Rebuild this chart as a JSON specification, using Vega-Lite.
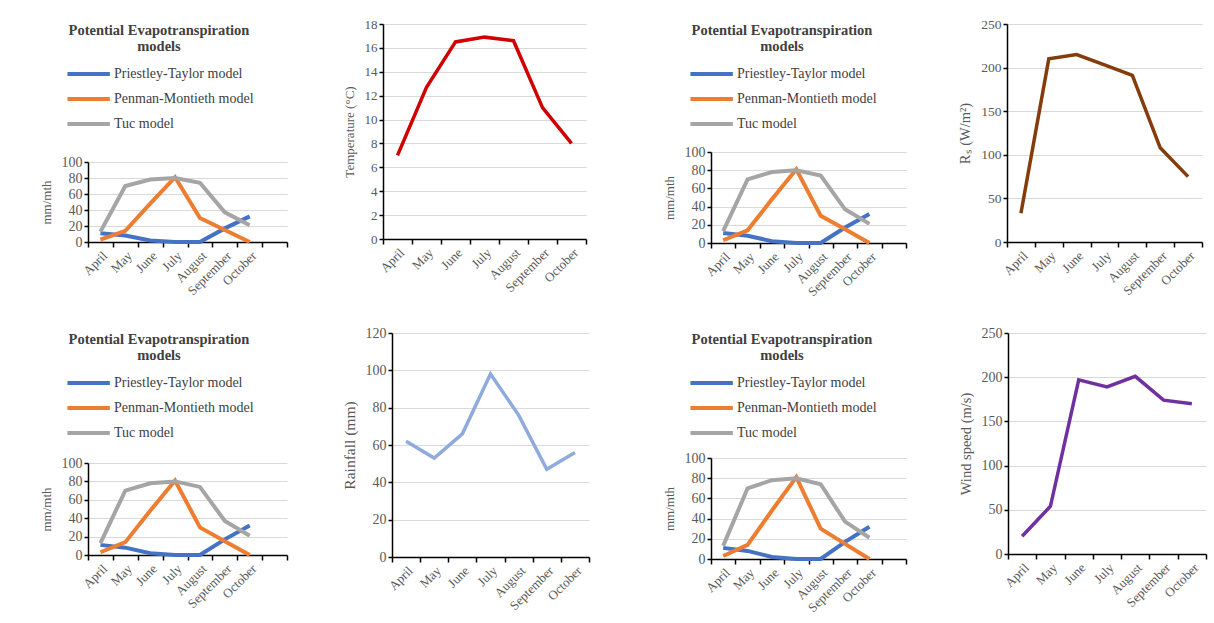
{
  "$schema": "https://vega.github.io/schema/vega-lite/v6.json",
  "padding": {"left": 40, "top": 17, "right": 2, "bottom": 0},
  "background": "white",
  "datasets": {
    "pet": [
      {"month": "April", "model": "Priestley-Taylor model", "value": 11},
      {"month": "May", "model": "Priestley-Taylor model", "value": 8},
      {"month": "June", "model": "Priestley-Taylor model", "value": 2},
      {"month": "July", "model": "Priestley-Taylor model", "value": 0},
      {"month": "August", "model": "Priestley-Taylor model", "value": 0},
      {"month": "September", "model": "Priestley-Taylor model", "value": 17},
      {"month": "October", "model": "Priestley-Taylor model", "value": 32},
      {"month": "April", "model": "Penman-Montieth model", "value": 3},
      {"month": "May", "model": "Penman-Montieth model", "value": 14},
      {"month": "June", "model": "Penman-Montieth model", "value": 48},
      {"month": "July", "model": "Penman-Montieth model", "value": 81},
      {"month": "August", "model": "Penman-Montieth model", "value": 30},
      {"month": "September", "model": "Penman-Montieth model", "value": 15},
      {"month": "October", "model": "Penman-Montieth model", "value": 0},
      {"month": "April", "model": "Tuc model", "value": 13},
      {"month": "May", "model": "Tuc model", "value": 70},
      {"month": "June", "model": "Tuc model", "value": 78},
      {"month": "July", "model": "Tuc model", "value": 80},
      {"month": "August", "model": "Tuc model", "value": 74},
      {"month": "September", "model": "Tuc model", "value": 37},
      {"month": "October", "model": "Tuc model", "value": 21}
    ],
    "weather": [
      {"month": "April", "temp": 7, "rs": 33, "rain": 62, "wind": 20},
      {"month": "May", "temp": 12.7, "rs": 210, "rain": 53, "wind": 54},
      {"month": "June", "temp": 16.5, "rs": 215, "rain": 66, "wind": 197},
      {"month": "July", "temp": 16.9, "rs": 203, "rain": 98, "wind": 189},
      {"month": "August", "temp": 16.6, "rs": 191, "rain": 76, "wind": 201},
      {"month": "September", "temp": 11, "rs": 108, "rain": 47, "wind": 174},
      {"month": "October", "temp": 8, "rs": 75, "rain": 56, "wind": 170}
    ]
  },
  "config": {
    "font": "Liberation Serif, Times New Roman, serif",
    "view": {"stroke": null},
    "axis": {
      "labelFont": "Liberation Serif, Times New Roman, serif",
      "titleFont": "Liberation Serif, Times New Roman, serif",
      "labelColor": "#595959",
      "titleColor": "#595959",
      "labelFontSize": 13,
      "titleFontSize": 13,
      "titleFontWeight": "normal",
      "domainColor": "#000000",
      "domainWidth": 1.5,
      "tickColor": "#000000",
      "tickWidth": 1.5,
      "tickSize": 5,
      "gridColor": "#D9D9D9",
      "gridWidth": 1
    },
    "axisX": {"grid": false, "labelAngle": -45, "tickBand": "extent", "labelPadding": 2},
    "axisY": {"grid": true, "tickSize": 4, "titlePadding": 8},
    "legend": {"labelFont": "Liberation Serif, Times New Roman, serif", "labelFontSize": 14, "labelColor": "#404040", "labelLimit": 400,
      "titleFont": "Liberation Serif, Times New Roman, serif", "titleFontSize": 14.5, "titleFontWeight": "bold", "titleColor": "#404040", "titleLineHeight": 16, "titleLimit": 400},
    "concat": {"spacing": 20}
  },
  "spacing": 27,
  "resolve": {"scale": {"color": "independent"}, "legend": {"color": "independent"}},
  "vconcat": [
    {
      "spacing": 76,
      "resolve": {"scale": {"color": "independent"}, "legend": {"color": "independent"}},
      "hconcat": [
        {
          "spacing": 55,
          "resolve": {"scale": {"color": "independent"}, "legend": {"color": "independent"}},
          "hconcat": [
            {
              "spacing": 10,
              "resolve": {"scale": {"color": "independent"}, "legend": {"color": "independent"}},
              "vconcat": [
                {
                  "width": 200, "height": 121,
                  "data": {"name": "pet"},
                  "transform": [{"filter": "datum.value < 0"}],
                  "mark": {"type": "line"},
                  "encoding": {
                    "color": {"field": "model", "type": "nominal",
                      "scale": {"domain": ["Priestley-Taylor model", "Penman-Montieth model", "Tuc model"], "range": ["#4472C4", "#ED7D31", "#A5A5A5"]},
                      "legend": {"orient": "none", "legendX": -23, "legendY": 0, "direction": "vertical",
                        "title": ["Potential Evapotranspiration", "models"], "titleAnchor": "middle", "titleAlign": "center", "titlePadding": 10,
                        "symbolType": "M-1,0L5,0", "symbolSize": 200, "symbolStrokeWidth": 4, "rowPadding": 7, "labelOffset": 30}}
                  }
                },
                {
                  "width": 199, "height": 80,
                  "data": {"name": "pet"},
                  "mark": {"type": "line", "strokeWidth": 4},
                  "encoding": {
                    "x": {"field": "month", "type": "nominal", "bandPosition": 0.5, "title": null,
                      "scale": {"type": "band", "domain": ["April", "May", "June", "July", "August", "September", "October", "_"], "paddingInner": 0, "paddingOuter": 0},
                      "axis": {"labelExpr": "datum.value == '_' ? '' : datum.label"}},
                    "y": {"field": "value", "type": "quantitative", "title": "mm/mth",
                      "scale": {"domain": [0, 100]}, "axis": {"values": [0, 20, 40, 60, 80, 100], "labelFontSize": 14}},
                    "color": {"field": "model", "type": "nominal", "legend": null,
                      "scale": {"domain": ["Priestley-Taylor model", "Penman-Montieth model", "Tuc model"], "range": ["#4472C4", "#ED7D31", "#A5A5A5"]}}
                  }
                }
              ]
            },
            {
              "width": 203, "height": 215,
              "data": {"name": "weather"},
              "mark": {"type": "line", "strokeWidth": 3.5, "color": "#D00000"},
              "encoding": {
                "x": {"field": "month", "type": "nominal", "bandPosition": 0.5, "title": null,
                  "scale": {"type": "band", "domain": ["April", "May", "June", "July", "August", "September", "October"], "paddingInner": 0, "paddingOuter": 0}},
                "y": {"field": "temp", "type": "quantitative", "title": "Temperature (°C)",
                  "scale": {"domain": [0, 18]}, "axis": {"values": [0, 2, 4, 6, 8, 10, 12, 14, 16, 18], "labelFontSize": 13}}
              }
            }
          ]
        },
        {
          "spacing": 50,
          "resolve": {"scale": {"color": "independent"}, "legend": {"color": "independent"}},
          "hconcat": [
            {
              "spacing": 10,
              "resolve": {"scale": {"color": "independent"}, "legend": {"color": "independent"}},
              "vconcat": [
                {
                  "width": 195, "height": 111,
                  "data": {"name": "pet"},
                  "transform": [{"filter": "datum.value < 0"}],
                  "mark": {"type": "line"},
                  "encoding": {
                    "color": {"field": "model", "type": "nominal",
                      "scale": {"domain": ["Priestley-Taylor model", "Penman-Montieth model", "Tuc model"], "range": ["#4472C4", "#ED7D31", "#A5A5A5"]},
                      "legend": {"orient": "none", "legendX": -23, "legendY": 0, "direction": "vertical",
                        "title": ["Potential Evapotranspiration", "models"], "titleAnchor": "middle", "titleAlign": "center", "titlePadding": 10,
                        "symbolType": "M-1,0L5,0", "symbolSize": 200, "symbolStrokeWidth": 4, "rowPadding": 7, "labelOffset": 30}}
                  }
                },
                {
                  "width": 195, "height": 91,
                  "data": {"name": "pet"},
                  "mark": {"type": "line", "strokeWidth": 4},
                  "encoding": {
                    "x": {"field": "month", "type": "nominal", "bandPosition": 0.5, "title": null,
                      "scale": {"type": "band", "domain": ["April", "May", "June", "July", "August", "September", "October", "_"], "paddingInner": 0, "paddingOuter": 0},
                      "axis": {"labelExpr": "datum.value == '_' ? '' : datum.label"}},
                    "y": {"field": "value", "type": "quantitative", "title": "mm/mth",
                      "scale": {"domain": [0, 100]}, "axis": {"values": [0, 20, 40, 60, 80, 100], "labelFontSize": 14}},
                    "color": {"field": "model", "type": "nominal", "legend": null,
                      "scale": {"domain": ["Priestley-Taylor model", "Penman-Montieth model", "Tuc model"], "range": ["#4472C4", "#ED7D31", "#A5A5A5"]}}
                  }
                }
              ]
            },
            {
              "width": 195, "height": 218,
              "data": {"name": "weather"},
              "mark": {"type": "line", "strokeWidth": 3.5, "color": "#843C0C"},
              "encoding": {
                "x": {"field": "month", "type": "nominal", "bandPosition": 0.5, "title": null,
                  "scale": {"type": "band", "domain": ["April", "May", "June", "July", "August", "September", "October"], "paddingInner": 0, "paddingOuter": 0}},
                "y": {"field": "rs", "type": "quantitative", "title": "Rₛ (W/m²)",
                  "scale": {"domain": [0, 250]}, "axis": {"values": [0, 50, 100, 150, 200, 250], "labelFontSize": 13.5, "titleFontSize": 14.5}}
              }
            }
          ]
        }
      ]
    },
    {
      "spacing": 73,
      "resolve": {"scale": {"color": "independent"}, "legend": {"color": "independent"}},
      "hconcat": [
        {
          "spacing": 54,
          "resolve": {"scale": {"color": "independent"}, "legend": {"color": "independent"}},
          "hconcat": [
            {
              "spacing": 10,
              "resolve": {"scale": {"color": "independent"}, "legend": {"color": "independent"}},
              "vconcat": [
                {
                  "width": 200, "height": 113,
                  "data": {"name": "pet"},
                  "transform": [{"filter": "datum.value < 0"}],
                  "mark": {"type": "line"},
                  "encoding": {
                    "color": {"field": "model", "type": "nominal",
                      "scale": {"domain": ["Priestley-Taylor model", "Penman-Montieth model", "Tuc model"], "range": ["#4472C4", "#ED7D31", "#A5A5A5"]},
                      "legend": {"orient": "none", "legendX": -23, "legendY": 0, "direction": "vertical",
                        "title": ["Potential Evapotranspiration", "models"], "titleAnchor": "middle", "titleAlign": "center", "titlePadding": 10,
                        "symbolType": "M-1,0L5,0", "symbolSize": 200, "symbolStrokeWidth": 4, "rowPadding": 7, "labelOffset": 30}}
                  }
                },
                {
                  "width": 199, "height": 92,
                  "data": {"name": "pet"},
                  "mark": {"type": "line", "strokeWidth": 4},
                  "encoding": {
                    "x": {"field": "month", "type": "nominal", "bandPosition": 0.5, "title": null,
                      "scale": {"type": "band", "domain": ["April", "May", "June", "July", "August", "September", "October", "_"], "paddingInner": 0, "paddingOuter": 0},
                      "axis": {"labelExpr": "datum.value == '_' ? '' : datum.label"}},
                    "y": {"field": "value", "type": "quantitative", "title": "mm/mth",
                      "scale": {"domain": [0, 100]}, "axis": {"values": [0, 20, 40, 60, 80, 100], "labelFontSize": 14}},
                    "color": {"field": "model", "type": "nominal", "legend": null,
                      "scale": {"domain": ["Priestley-Taylor model", "Penman-Montieth model", "Tuc model"], "range": ["#4472C4", "#ED7D31", "#A5A5A5"]}}
                  }
                }
              ]
            },
            {
              "width": 197, "height": 224,
              "data": {"name": "weather"},
              "mark": {"type": "line", "strokeWidth": 3.5, "color": "#8FAADC"},
              "encoding": {
                "x": {"field": "month", "type": "nominal", "bandPosition": 0.5, "title": null,
                  "scale": {"type": "band", "domain": ["April", "May", "June", "July", "August", "September", "October"], "paddingInner": 0, "paddingOuter": 0}},
                "y": {"field": "rain", "type": "quantitative", "title": "Rainfall (mm)",
                  "scale": {"domain": [0, 120]}, "axis": {"values": [0, 20, 40, 60, 80, 100, 120], "labelFontSize": 14, "titleFontSize": 15.5}}
              }
            }
          ]
        },
        {
          "spacing": 51,
          "resolve": {"scale": {"color": "independent"}, "legend": {"color": "independent"}},
          "hconcat": [
            {
              "spacing": 10,
              "resolve": {"scale": {"color": "independent"}, "legend": {"color": "independent"}},
              "vconcat": [
                {
                  "width": 195, "height": 103,
                  "data": {"name": "pet"},
                  "transform": [{"filter": "datum.value < 0"}],
                  "mark": {"type": "line"},
                  "encoding": {
                    "color": {"field": "model", "type": "nominal",
                      "scale": {"domain": ["Priestley-Taylor model", "Penman-Montieth model", "Tuc model"], "range": ["#4472C4", "#ED7D31", "#A5A5A5"]},
                      "legend": {"orient": "none", "legendX": -23, "legendY": 0, "direction": "vertical",
                        "title": ["Potential Evapotranspiration", "models"], "titleAnchor": "middle", "titleAlign": "center", "titlePadding": 10,
                        "symbolType": "M-1,0L5,0", "symbolSize": 200, "symbolStrokeWidth": 4, "rowPadding": 7, "labelOffset": 30}}
                  }
                },
                {
                  "width": 195, "height": 101,
                  "data": {"name": "pet"},
                  "mark": {"type": "line", "strokeWidth": 4},
                  "encoding": {
                    "x": {"field": "month", "type": "nominal", "bandPosition": 0.5, "title": null,
                      "scale": {"type": "band", "domain": ["April", "May", "June", "July", "August", "September", "October", "_"], "paddingInner": 0, "paddingOuter": 0},
                      "axis": {"labelExpr": "datum.value == '_' ? '' : datum.label"}},
                    "y": {"field": "value", "type": "quantitative", "title": "mm/mth",
                      "scale": {"domain": [0, 100]}, "axis": {"values": [0, 20, 40, 60, 80, 100], "labelFontSize": 14}},
                    "color": {"field": "model", "type": "nominal", "legend": null,
                      "scale": {"domain": ["Priestley-Taylor model", "Penman-Montieth model", "Tuc model"], "range": ["#4472C4", "#ED7D31", "#A5A5A5"]}}
                  }
                }
              ]
            },
            {
              "width": 198, "height": 221,
              "data": {"name": "weather"},
              "mark": {"type": "line", "strokeWidth": 3.5, "color": "#7030A0"},
              "encoding": {
                "x": {"field": "month", "type": "nominal", "bandPosition": 0.5, "title": null,
                  "scale": {"type": "band", "domain": ["April", "May", "June", "July", "August", "September", "October"], "paddingInner": 0, "paddingOuter": 0}},
                "y": {"field": "wind", "type": "quantitative", "title": "Wind speed (m/s)",
                  "scale": {"domain": [0, 250]}, "axis": {"values": [0, 50, 100, 150, 200, 250], "labelFontSize": 14, "titleFontSize": 14.5}}
              }
            }
          ]
        }
      ]
    }
  ]
}
